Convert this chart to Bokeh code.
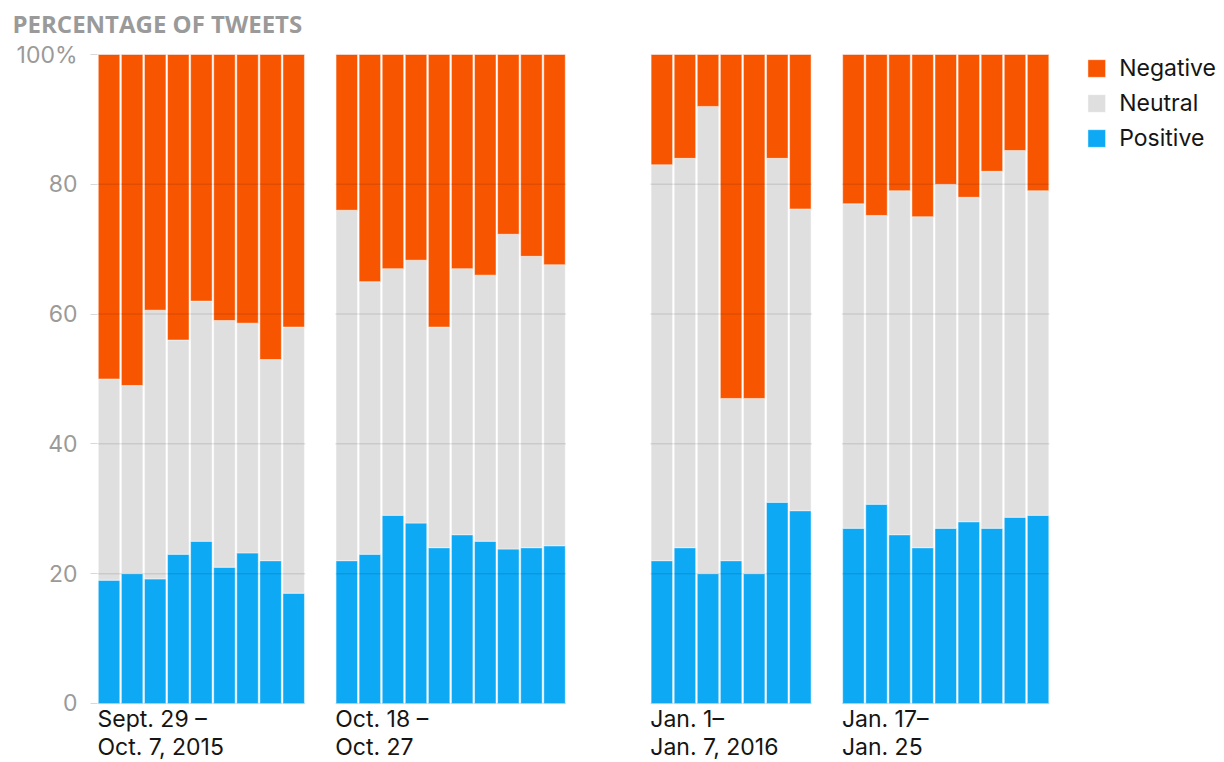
from bokeh.plotting import figure
from bokeh.models import (ColumnDataSource, Range1d, FixedTicker, Legend, LegendItem, Title)
from bokeh.core.properties import value
from bokeh.embed import file_html
from bokeh.resources import INLINE

# ---------------- data (percent of tweets) ----------------
group_labels = ["Sept. 29 \u2013\nOct. 7, 2015", "Oct. 18 \u2013\nOct. 27",
                "Jan. 1\u2013\nJan. 7, 2016", "Jan. 17\u2013\nJan. 25"]

positive_1 = [19, 20, 19.2, 23, 25, 21, 23.2, 22, 17]
neutral_1 = [31, 29, 41.4, 33, 37, 38, 35.4, 31, 41]
negative_1 = [50, 51, 39.4, 44, 38, 41, 41.4, 47, 42]

positive_2 = [22, 23, 29, 27.8, 24, 26, 25, 23.8, 24, 24.3]
neutral_2 = [54, 42, 38, 40.5, 34, 41, 41, 48.5, 44.9, 43.3]
negative_2 = [24, 35, 33, 31.7, 42, 33, 34, 27.7, 31.1, 32.4]

positive_3 = [22, 24, 20, 22, 20, 31, 29.7]
neutral_3 = [61, 60, 72, 25, 27, 53, 46.5]
negative_3 = [17, 16, 8, 53, 53, 16, 23.8]

positive_4 = [27, 30.7, 26, 24, 27, 28, 27, 28.7, 29]
neutral_4 = [50, 44.5, 53, 51, 53, 50, 55, 56.5, 50]
negative_4 = [23, 24.8, 21, 25, 20, 22, 18, 14.8, 21]

y_ticks = [0, 20, 40, 60, 80, 100]
series_names = ["Positive", "Neutral", "Negative"]

# ---------------- layout helpers ----------------
groups = [(positive_1, neutral_1, negative_1),
          (positive_2, neutral_2, negative_2),
          (positive_3, neutral_3, negative_3),
          (positive_4, neutral_4, negative_4)]
gap_before = [0.0, 1.3, 3.65, 1.3]   # empty slots between groups
legend_room = 7.23                  # slots kept free on the right for the legend
label_room = 9.1                    # y units kept free below 0 for the group labels

xs, pos, neu, neg = [], [], [], []
group_left, group_right = [], []
cursor = 0.0
for g, (p_, n_, ng_) in enumerate(groups):
    cursor += gap_before[g]
    group_left.append(cursor - 0.5)
    for i in range(len(p_)):
        xs.append(cursor + i)
    pos += p_
    neu += n_
    neg += ng_
    cursor += len(p_)
    group_right.append(cursor - 0.5)

src = ColumnDataSource(dict(x=xs, Positive=pos, Neutral=neu, Negative=neg))

NEG = "#F85500"
NEU = "#DFDFDF"
POS = "#0DA9F5"

p = figure(frame_width=1119, frame_height=708,
           x_range=Range1d(-0.5, cursor - 0.5 + legend_room),
           y_range=Range1d(-label_room, 100),
           output_backend="svg", toolbar_location=None,
           x_axis_location=None,
           min_border_left=97, min_border_right=0,
           min_border_top=54, min_border_bottom=0)
p.outline_line_color = None
p.xgrid.visible = False
p.ygrid.visible = False

renderers = p.vbar_stack(series_names, x="x", width=0.93, source=src,
                         fill_color=[POS, NEU, NEG], line_color="white",
                         line_alpha=0.45, line_width=1)
r_pos, r_neu, r_neg = renderers

# grid lines drawn across each group of bars only
gx0, gx1, gy = [], [], []
for gl, gr in zip(group_left, group_right):
    for t in y_ticks:
        gx0.append(gl)
        gx1.append(gr)
        gy.append(t)
p.segment(x0=gx0, x1=gx1, y0=gy, y1=gy, line_color="black",
          line_alpha=0.09, line_width=1.5)

# y axis
ax = p.yaxis[0]
ax.ticker = FixedTicker(ticks=y_ticks)
ax.major_label_overrides = {100: "100%"}
ax.axis_line_color = None
ax.major_tick_in = 0
ax.major_tick_out = 7
ax.major_tick_line_color = "#d8d8d8"
ax.minor_tick_line_color = None
ax.major_label_standoff = 13
ax.major_label_text_font = "Inter"
ax.major_label_text_font_size = "23px"
ax.major_label_text_color = "#9a9a9a"

# the visible title
p.title.text = "PERCENTAGE OF TWEETS"
p.title.text_font = "Open Sans"
p.title.text_font_style = "bold"
p.title.text_font_size = "24px"
p.title.text_color = "#9a9a9a"
p.title.align = "left"
p.title.offset = -85
p.title.standoff = 4

# blank spacer title, stacked between the title and the plot area
p.add_layout(Title(text=" ", text_font="Open Sans", text_font_size="8px",
                   standoff=0), "above")

# group labels under the bars
p.text(x=group_left, y=[-0.25] * len(group_left), text=group_labels,
       text_align="left", text_baseline="top",
       text_font=value("Inter"), text_font_size="23px",
       text_color="#151515", text_line_height=1.0)

# legend
legend = Legend(items=[LegendItem(label="Negative", renderers=[r_neg]),
                       LegendItem(label="Neutral", renderers=[r_neu]),
                       LegendItem(label="Positive", renderers=[r_pos])],
                location="top_right", glyph_width=22, glyph_height=22,
                label_standoff=12, spacing=7, padding=0, margin=0,
                border_line_color=None, background_fill_alpha=0,
                label_text_font="Inter", label_text_font_size="23px",
                label_text_color="#151515")
p.add_layout(legend)

open("out.html", "w").write(file_html(p, INLINE))
